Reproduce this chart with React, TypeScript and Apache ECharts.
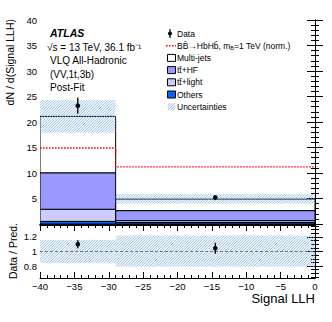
import React, { useEffect, useRef } from 'react';
import * as echarts from 'echarts';

// ---- data ----
const binEdges = [-40, -29, 0];
const othersVals = [0.5, 0.3];
const ttLightVals = [2.37, 0.35];
const ttHFVals = [7.13, 1.95];
const multiJetVals = [11.1, 2.28];
const signalVals = [14.9, 11.2];
const uncLo = [17.9, 4.0];
const uncHi = [24.3, 5.85];
const dataVals = [23.2, 5.2];
const dataErr = [1.6, 0.45];
const ratioVals = [1.1, 1.045];
const ratioErr = [0.055, 0.075];
const ratioUncLo = [0.84, 0.79];
const ratioUncHi = [1.16, 1.22];
const ratioMajorTicks = [0.8, 1, 1.2];
const ratioMinorTicks = [0.65, 0.7, 0.75, 0.85, 0.9, 0.95, 1.05, 1.1, 1.15, 1.25, 1.3, 1.35];
const legendLabels = ['Data', 'signal', 'Multi-jets', 'tt\u0304+HF', 'tt\u0304+light', 'Others', 'Uncertainties'];
const infoLines = ['\u221As = 13 TeV, 36.1 fb\u207B\u00B9', 'VLQ All-Hadronic', '(VV,1t,3b)', 'Post-Fit'];

const FONT = "'Liberation Sans', Arial, Helvetica, sans-serif";
const compColors = ['#0066ff', '#ccccff', '#9999ff', '#ffffff'];
const hatchColor = '#78acdf';
const HATCH_STEP = 2.6;

// diagonal hatch lines (going up-right) clipped to a pixel rectangle
function hatchLines(x0: number, y0: number, x1: number, y1: number): any[] {
  const out: any[] = [];
  const cStart = Math.ceil((x0 + y0) / HATCH_STEP) * HATCH_STEP;
  for (let c = cStart; c <= x1 + y1; c += HATCH_STEP) {
    const sx = Math.max(x0, c - y1);
    const ex = Math.min(x1, c - y0);
    if (ex - sx <= 0.01) continue;
    out.push({
      type: 'line',
      shape: { x1: sx, y1: c - sx, x2: ex, y2: c - ex },
      style: { stroke: hatchColor, lineWidth: 0.8 },
      silent: true,
    });
  }
  return out;
}

export default function App() {
  const ref = useRef<HTMLDivElement>(null);
  useEffect(() => {
    if (!ref.current) return;
    const chart = echarts.init(ref.current, null, { renderer: 'svg' });

    const comps = [othersVals, ttLightVals, ttHFVals, multiJetVals];
    const stackData: number[][] = [];
    for (let i = 0; i < binEdges.length - 1; i++) {
      let cum = 0;
      comps.forEach((vals, k) => {
        stackData.push([binEdges[i], binEdges[i + 1], cum, cum + vals[i], k]);
        cum += vals[i];
      });
    }
    stackData.sort((a, b) => b[4] - a[4]);

    const uncData = uncLo.map((lo, i) => [binEdges[i], binEdges[i + 1], lo, uncHi[i]]);
    const ratioUncData = ratioUncLo.map((lo, i) => [binEdges[i], binEdges[i + 1], lo, ratioUncHi[i]]);
    const centers = dataVals.map((_, i) => (binEdges[i] + binEdges[i + 1]) / 2);
    const dataPts = dataVals.map((v, i) => [centers[i], v, v - dataErr[i], v + dataErr[i]]);
    const ratioPts = ratioVals.map((v, i) => [centers[i], v, v - ratioErr[i], v + ratioErr[i]]);
    const sigStep: number[][] = [];
    signalVals.forEach((v, i) => {
      sigStep.push([binEdges[i], v]);
      sigStep.push([binEdges[i + 1], v]);
    });

    const stackRender = (params: any, api: any) => {
      const a = api.coord([api.value(0), api.value(3)]);
      const b = api.coord([api.value(1), api.value(2)]);
      return {
        type: 'rect',
        shape: { x: a[0], y: a[1], width: b[0] - a[0], height: b[1] - a[1] },
        style: { fill: compColors[api.value(4)], stroke: '#000', lineWidth: 1 },
      };
    };
    const hatchRender = (params: any, api: any) => {
      const a = api.coord([api.value(0), api.value(3)]);
      const b = api.coord([api.value(1), api.value(2)]);
      return { type: 'group', children: hatchLines(a[0], a[1], b[0], b[1]) };
    };
    const errRender = (params: any, api: any) => {
      const x = api.value(0), y = api.value(1), lo = api.value(2), hi = api.value(3);
      const p = api.coord([x, y]);
      const pl = api.coord([x, lo]);
      const ph = api.coord([x, hi]);
      return {
        type: 'group',
        children: [
          { type: 'line', shape: { x1: pl[0], y1: pl[1], x2: ph[0], y2: ph[1] }, style: { stroke: '#000', lineWidth: 1.3 } },
          { type: 'circle', shape: { cx: p[0], cy: p[1], r: 2.3 }, style: { fill: '#000' } },
        ],
      };
    };

    const lbl = { fontFamily: FONT, fontSize: 9.5, color: '#000' };
    const axLine = { show: true, lineStyle: { color: '#000', width: 1 } };
    const xBase = (grid: number, pos: string, labels: boolean, major: number, minor: number) => ({
      type: 'value', gridIndex: grid, position: pos, min: -40, max: 0, interval: 5,
      axisLine: axLine, splitLine: { show: false },
      axisTick: { show: true, inside: true, length: major, lineStyle: { color: '#000' } },
      minorTick: { show: true, splitNumber: 5, length: minor, lineStyle: { color: '#000' } },
      axisLabel: labels
        ? { ...lbl, margin: 3, formatter: (v: number) => (v < 0 ? '\u2212' + Math.abs(v) : String(v)) }
        : { show: false },
    });
    const yTop = (pos: string, labels: boolean) => ({
      type: 'value', gridIndex: 0, position: pos, min: 0, max: 40, interval: 5,
      axisLine: axLine, splitLine: { show: false },
      axisTick: { show: true, inside: true, length: 8, lineStyle: { color: '#000' } },
      minorTick: { show: true, splitNumber: 5, length: 4, lineStyle: { color: '#000' } },
      axisLabel: labels ? { ...lbl, margin: 3, formatter: (v: number) => (v === 0 ? '' : String(v)) } : { show: false },
    });
    const yRatio = (pos: string, labels: boolean, ticks: number[], len: number, line: boolean) => ({
      type: 'value', gridIndex: 1, position: pos, min: 0.635, max: 1.365,
      axisLine: line ? axLine : { show: false }, splitLine: { show: false },
      axisTick: { show: true, inside: true, length: len, customValues: ticks, lineStyle: { color: '#000' } },
      axisLabel: labels ? { ...lbl, margin: 3, customValues: ticks } : { show: false, customValues: ticks },
    });

    const legendY0 = 33.5;
    const legendDy = 12.2;
    const legendChildren: any[] = [];
    legendLabels.forEach((t, i) => {
      const y = legendY0 + i * legendDy;
      if (i === 1) {
        legendChildren.push({
          type: 'text', x: 177, y,
          style: {
            text: 'BB\u0304\u2192HbHb\u0304, m{sub|B}=1 TeV (norm.)',
            fontFamily: FONT, fontSize: 8.5, fill: '#000', verticalAlign: 'middle',
            rich: { sub: { fontSize: 5.5, fontFamily: FONT, fill: '#000', padding: [5, 0, 0, 0] } },
          },
        });
      } else {
        legendChildren.push({
          type: 'text', x: 177, y,
          style: { text: t, fontFamily: FONT, fontSize: 8.5, fill: '#000', verticalAlign: 'middle' },
        });
      }
      if (i === 0) {
        legendChildren.push({ type: 'line', shape: { x1: 170, y1: y - 4.5, x2: 170, y2: y + 4.5 }, style: { stroke: '#000', lineWidth: 1.2 } });
        legendChildren.push({ type: 'circle', shape: { cx: 170, cy: y, r: 2 }, style: { fill: '#000' } });
      } else if (i === 1) {
        legendChildren.push({ type: 'line', shape: { x1: 166, y1: y, x2: 176, y2: y }, style: { stroke: '#ff0000', lineWidth: 1.4, lineDash: [1.6, 1.4] } });
      } else if (i >= 2 && i <= 5) {
        const col = [compColors[3], compColors[2], compColors[1], compColors[0]][i - 2];
        legendChildren.push({ type: 'rect', shape: { x: 167.5, y: y - 3.5, width: 8, height: 7 }, style: { fill: col, stroke: '#000', lineWidth: 1 } });
      } else {
        hatchLines(167.5, y - 3.5, 175.5, y + 3.5).forEach((l) => legendChildren.push(l));
      }
    });

    const infoChildren: any[] = [
      { type: 'text', x: 50, y: 33, style: { text: 'ATLAS', fontFamily: FONT, fontSize: 10.5, fontWeight: 'bold', fontStyle: 'italic', fill: '#000', verticalAlign: 'middle' } },
    ];
    infoLines.forEach((t, i) => {
      infoChildren.push({
        type: 'text', x: i === 0 ? 47 : 50, y: 47 + i * 13.6,
        style: { text: t, fontFamily: FONT, fontSize: 10, fill: '#000', verticalAlign: 'middle' },
      });
    });

    chart.setOption({
      animation: false,
      backgroundColor: '#fff',
      grid: [
        { left: 40, right: 17, top: 20, height: 204 },
        { left: 40, right: 17, top: 225, height: 53 },
      ],
      xAxis: [
        xBase(0, 'bottom', false, 7, 4),
        xBase(0, 'top', false, 7, 4),
        xBase(1, 'bottom', true, 6, 3),
        xBase(1, 'top', false, 6, 3),
      ],
      yAxis: [
        yTop('left', true),
        yTop('right', false),
        yRatio('left', true, ratioMajorTicks, 8, true),
        yRatio('left', false, ratioMinorTicks, 4, false),
        yRatio('right', false, ratioMajorTicks, 8, true),
        yRatio('right', false, ratioMinorTicks, 4, false),
      ],
      series: [
        { type: 'custom', xAxisIndex: 0, yAxisIndex: 0, renderItem: stackRender, data: stackData, z: 1, clip: true },
        { type: 'custom', xAxisIndex: 0, yAxisIndex: 0, renderItem: hatchRender, data: uncData, z: 2, clip: true },
        {
          type: 'line', xAxisIndex: 0, yAxisIndex: 0, data: sigStep, symbol: 'none', z: 3,
          lineStyle: { color: '#ff0000', width: 1.4, type: [1.6, 1.4] },
        },
        { type: 'custom', xAxisIndex: 0, yAxisIndex: 0, renderItem: errRender, data: dataPts, z: 4 },
        { type: 'custom', xAxisIndex: 2, yAxisIndex: 2, renderItem: hatchRender, data: ratioUncData, z: 1, clip: true },
        {
          type: 'line', xAxisIndex: 2, yAxisIndex: 2, data: [[-40, 1], [0, 1]], symbol: 'none', z: 2,
          lineStyle: { color: '#777', width: 1, type: [3, 2] },
        },
        { type: 'custom', xAxisIndex: 2, yAxisIndex: 2, renderItem: errRender, data: ratioPts, z: 4 },
      ],
      graphic: [
        { type: 'group', children: legendChildren },
        { type: 'group', children: infoChildren },
        {
          type: 'text', x: 10, y: 19, rotation: Math.PI / 2,
          style: { text: 'dN / d(Signal LLH)', fontFamily: FONT, fontSize: 10.5, fill: '#000', align: 'right', verticalAlign: 'middle' },
        },
        {
          type: 'text', x: 13, y: 223, rotation: Math.PI / 2,
          style: { text: 'Data / Pred.', fontFamily: FONT, fontSize: 10.5, fill: '#000', align: 'right', verticalAlign: 'middle' },
        },
        {
          type: 'text', x: 315, y: 298,
          style: { text: 'Signal LLH', fontFamily: FONT, fontSize: 13, fill: '#000', align: 'right', verticalAlign: 'middle' },
        },
      ],
    });
    return () => chart.dispose();
  }, []);
  return <div ref={ref} style={{ position: 'absolute', left: 0, top: 0, width: 332, height: 322 }} />;
}
